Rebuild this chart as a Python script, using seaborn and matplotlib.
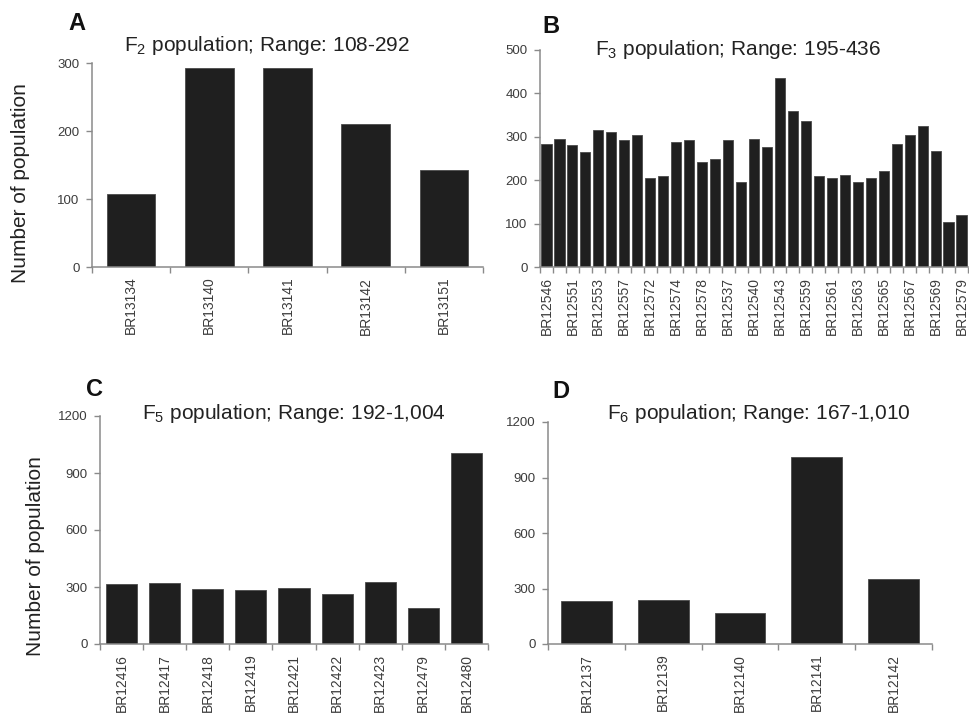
import matplotlib
matplotlib.use("Agg")
import matplotlib.pyplot as plt
import seaborn as sns
import numpy as np
import pandas as pd

# ---------------- data ----------------
a_labels = ["BR13134", "BR13140", "BR13141", "BR13142", "BR13151"]
a_values = [108, 292, 292, 211, 143]

b_values = [283, 296, 280, 265, 315, 311, 292, 305, 204, 209, 288, 292, 241,
            248, 292, 195, 295, 276, 436, 360, 336, 209, 204, 212, 196, 206,
            221, 283, 305, 325, 268, 103, 119]
b_labels = ["BR12546", "BR12551", "BR12553", "BR12557", "BR12572", "BR12574",
            "BR12578", "BR12537", "BR12540", "BR12543", "BR12559", "BR12561",
            "BR12563", "BR12565", "BR12567", "BR12569", "BR12579"]

c_labels = ["BR12416", "BR12417", "BR12418", "BR12419", "BR12421", "BR12422",
            "BR12423", "BR12479", "BR12480"]
c_values = [318, 321, 291, 286, 294, 262, 325, 192, 1004]

d_labels = ["BR12137", "BR12139", "BR12140", "BR12141", "BR12142"]
d_values = [230, 238, 167, 1010, 353]

titles = ["F$_2$ population; Range: 108-292",
          "F$_3$ population; Range: 195-436",
          "F$_5$ population; Range: 192-1,004",
          "F$_6$ population; Range: 167-1,010"]
letters = ["A", "B", "C", "D"]
ylabel = "Number of population"

# ---------------- style ----------------
sns.set_theme(style="white")
plt.rcParams["font.family"] = ["Liberation Sans", "DejaVu Sans"]
plt.rcParams["mathtext.default"] = "regular"

W, H = 970, 713
fig = plt.figure(figsize=(W / 100, H / 100), dpi=100)

def box(l, r, t, b):
    return [l / W, 1 - b / H, (r - l) / W, (b - t) / H]

axA = fig.add_axes(box(92, 483, 63, 267))
axB = fig.add_axes(box(540, 968, 50, 267))
axC = fig.add_axes(box(100, 488, 416, 644))
axD = fig.add_axes(box(548, 932, 422, 644))

BAR = "#1f1f1f"
EDGE = "#4a4a4a"
SPINE = "#8a8a8a"
TXT = "#3c3c3c"

def style_ax(ax, n, ymax, ystep):
    ax.set_xlim(-0.5, n - 0.5)
    ax.set_ylim(0, ymax)
    ax.set_yticks(np.arange(0, ymax + 1, ystep))
    for s in ["top", "right"]:
        ax.spines[s].set_visible(False)
    for s in ["left", "bottom"]:
        ax.spines[s].set_color(SPINE)
        ax.spines[s].set_linewidth(1.1)
    ax.set_xticks(np.arange(-0.5, n, 1.0), minor=True)
    ax.tick_params(axis="x", which="major", length=0, pad=7, labelsize=10,
                   labelcolor=TXT, rotation=90)
    ax.tick_params(axis="x", which="minor", length=4, width=1, color=SPINE,
                   direction="out", bottom=True)
    ax.tick_params(axis="y", which="major", length=4, width=1, color=SPINE,
                   direction="out", left=True, labelsize=9.5, labelcolor=TXT,
                   pad=5)
    ax.set_xlabel("")
    ax.set_ylabel("")

def draw(ax, labels, values, width):
    df = pd.DataFrame({"cat": labels, "val": values})
    sns.barplot(data=df, x="cat", y="val", ax=ax, color=BAR, saturation=1,
                width=width, edgecolor=EDGE, linewidth=0.6, order=labels)

draw(axA, a_labels, a_values, 0.62)
style_ax(axA, len(a_labels), 300, 100)

b_idx = list(range(len(b_values)))
dfb = pd.DataFrame({"cat": b_idx, "val": b_values})
sns.barplot(data=dfb, x="cat", y="val", ax=axB, color=BAR, saturation=1,
            width=0.78, edgecolor=EDGE, linewidth=0.6, order=b_idx)
style_ax(axB, len(b_values), 500, 100)
axB.set_xticks(np.arange(0, len(b_values), 2))
axB.set_xticklabels(b_labels)

draw(axC, c_labels, c_values, 0.72)
style_ax(axC, len(c_labels), 1200, 300)

draw(axD, d_labels, d_values, 0.66)
style_ax(axD, len(d_labels), 1200, 300)

# titles (figure pixel coords: centre x, baseline y)
for (cx, by), t in zip([(267, 51), (738, 55), (294, 419), (759, 419)], titles):
    fig.text(cx / W, 1 - by / H, t, ha="center", va="baseline",
             fontsize=15, color="#222222")

for (lx, by), L in zip([(68, 30), (542, 33), (86, 396), (552, 398)], letters):
    fig.text(lx / W, 1 - by / H, L, ha="left", va="baseline", fontsize=17,
             fontweight="bold", color="#111111")

fig.text(21 / W, 1 - 183 / H, ylabel, rotation=90, ha="center", va="center",
         fontsize=15, color="#222222")
fig.text(36 / W, 1 - 556 / H, ylabel, rotation=90, ha="center", va="center",
         fontsize=15, color="#222222")

fig.savefig("out.png", dpi=100)
